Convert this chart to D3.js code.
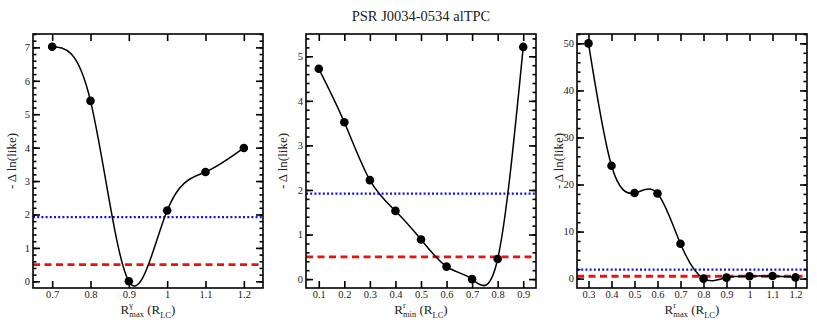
<!DOCTYPE html>
<html>
<head>
<meta charset="utf-8">
<script src="https://cdn.jsdelivr.net/npm/d3@7"></script>
<style>
  body { margin: 0; background: #fff; }
  svg text { font-family: "Liberation Serif", "DejaVu Serif", serif; fill: #222; }
</style>
</head>
<body>
<div id="chart"></div>
<script>
const width = 817, height = 323;
const titleText = "PSR J0034-0534 alTPC";

// panel 1: R^gamma_max
const xGammaMax = [0.7, 0.8, 0.9, 1.0, 1.1, 1.2];
const yGammaMax = [7.02, 5.4, 0.0, 2.12, 3.27, 3.99];
// panel 2: R^r_min
const xRMin = [0.1, 0.2, 0.3, 0.4, 0.5, 0.6, 0.7, 0.8, 0.9];
const yRMin = [4.72, 3.52, 2.22, 1.53, 0.89, 0.28, 0.0, 0.45, 5.21];
// panel 3: R^r_max
const xRMax = [0.3, 0.4, 0.5, 0.6, 0.7, 0.8, 0.9, 1.0, 1.1, 1.2];
const yRMax = [50.0, 24.0, 18.2, 18.1, 7.4, 0.0, 0.2, 0.5, 0.55, 0.25];

const blueLevel = 1.92;
const redLevel = 0.5;

const panels = [
    { box: [33, 34, 263, 288], xs: xGammaMax, ys: yGammaMax, xdom: [0.65, 1.25], ydom: [-0.2, 7.4],
      yMajor: d3.range(0, 8, 1), yMinor: d3.range(0, 7.41, 0.2), sup: "γ", sub: "max", labelX: 13 },
    { box: [306, 34, 536, 288], xs: xRMin, ys: yRMin, xdom: [0.05, 0.95], ydom: [-0.2, 5.5],
      yMajor: d3.range(0, 6, 1), yMinor: d3.range(0, 5.41, 0.2), sup: "r", sub: "min", labelX: 284 },
    { box: [577, 34, 807, 288], xs: xRMax, ys: yRMax, xdom: [0.25, 1.25], ydom: [-2, 52],
      yMajor: d3.range(0, 51, 10), yMinor: d3.range(0, 52.1, 2), sup: "r", sub: "max", labelX: 560 }
];

const svg = d3.select("#chart").append("svg")
    .attr("width", width)
    .attr("height", height);

svg.append("text")
    .attr("x", 421)
    .attr("y", 21)
    .attr("text-anchor", "middle")
    .attr("font-size", 14.5)
    .text(titleText);

const fmt = d => String(+d.toFixed(2));

panels.forEach(p => {
    const [x0, y0, x1, y1] = p.box;
    const x = d3.scaleLinear().domain(p.xdom).range([x0, x1]);
    const y = d3.scaleLinear().domain(p.ydom).range([y1, y0]);
    const g = svg.append("g");

    const clipId = "clip" + x0;
    svg.append("clipPath").attr("id", clipId)
        .append("rect").attr("x", x0).attr("y", y0).attr("width", x1 - x0).attr("height", y1 - y0);

    const plot = g.append("g").attr("clip-path", `url(#${clipId})`);

    // reference levels
    plot.append("line")
        .attr("x1", x0).attr("x2", x1)
        .attr("y1", y(blueLevel)).attr("y2", y(blueLevel))
        .attr("stroke", "#1010ee").attr("stroke-width", 2.2)
        .attr("stroke-dasharray", "2,2.2");
    plot.append("line")
        .attr("x1", x0).attr("x2", x1)
        .attr("y1", y(redLevel)).attr("y2", y(redLevel))
        .attr("stroke", "#ee1010").attr("stroke-width", 2.8)
        .attr("stroke-dasharray", "7,4.5");

    const pts = p.xs.map((v, i) => [v, p.ys[i]]);
    const line = d3.line().x(d => x(d[0])).y(d => y(d[1])).curve(d3.curveNatural);
    plot.append("path")
        .datum(pts)
        .attr("d", line)
        .attr("fill", "none")
        .attr("stroke", "#000")
        .attr("stroke-width", 1.5);

    plot.selectAll("circle")
        .data(pts)
        .enter().append("circle")
        .attr("cx", d => x(d[0]))
        .attr("cy", d => y(d[1]))
        .attr("r", 4.3)
        .attr("fill", "#000");

    // axes: ticks pointing inward, mirrored
    const xTicks = p.xs;
    const bottom = d3.axisBottom(x).tickValues(xTicks).tickSize(-7).tickFormat(fmt).tickPadding(3);
    const top = d3.axisTop(x).tickValues(xTicks).tickSize(-7).tickFormat("");
    const left = d3.axisLeft(y).tickValues(p.yMajor).tickSize(-7).tickFormat(fmt).tickPadding(3);
    const right = d3.axisRight(y).tickValues(p.yMajor).tickSize(-7).tickFormat("");
    const leftMinor = d3.axisLeft(y).tickValues(p.yMinor).tickSize(-3.5).tickFormat("");
    const rightMinor = d3.axisRight(y).tickValues(p.yMinor).tickSize(-3.5).tickFormat("");

    const styleAxis = sel => {
        sel.attr("font-family", null);
        sel.select(".domain").remove();
        sel.selectAll(".tick line").attr("stroke", "#000").attr("stroke-width", 1.6);
        sel.selectAll(".tick text").attr("font-size", 10.5).attr("fill", "#333");
    };

    g.append("g").attr("transform", `translate(0,${y1})`).call(bottom).call(styleAxis);
    g.append("g").attr("transform", `translate(0,${y0})`).call(top).call(styleAxis);
    g.append("g").attr("transform", `translate(${x0},0)`).call(left).call(styleAxis);
    g.append("g").attr("transform", `translate(${x1},0)`).call(right).call(styleAxis);
    g.append("g").attr("transform", `translate(${x0},0)`).call(leftMinor).call(styleAxis);
    g.append("g").attr("transform", `translate(${x1},0)`).call(rightMinor).call(styleAxis);

    g.append("rect")
        .attr("x", x0).attr("y", y0)
        .attr("width", x1 - x0).attr("height", y1 - y0)
        .attr("fill", "none").attr("stroke", "#000").attr("stroke-width", 1.6);

    // y label
    g.append("text")
        .attr("transform", `translate(${p.labelX},${(y0 + y1) / 2}) rotate(-90)`)
        .attr("text-anchor", "middle")
        .attr("dominant-baseline", "middle")
        .attr("font-size", 13)
        .text("- Δ ln(like)");

    // x label: R^sup_sub (R_LC)
    const xl = g.append("text")
        .attr("x", (x0 + x1) / 2)
        .attr("y", 314)
        .attr("text-anchor", "middle")
        .attr("font-size", 13);
    xl.append("tspan").text("R");
    const supSpan = xl.append("tspan").attr("font-size", 8.5).attr("dy", -6.5).text(p.sup);
    const supW = supSpan.node().getComputedTextLength();
    xl.append("tspan").attr("font-size", 8.5).attr("dx", -supW).attr("dy", 9.5).text(p.sub);
    xl.append("tspan").attr("dy", -3).text(" (R");
    xl.append("tspan").attr("font-size", 8.5).attr("dy", 4).text("LC");
    xl.append("tspan").attr("dy", -4).text(")");
});
</script>
</body>
</html>
